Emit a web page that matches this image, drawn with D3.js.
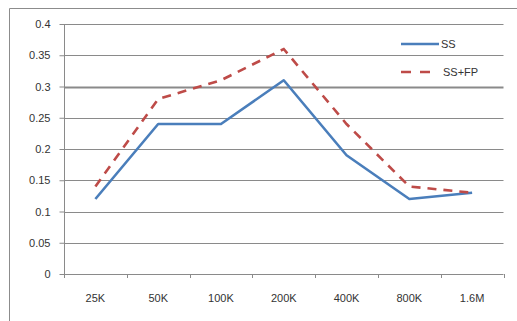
<!DOCTYPE html>
<html><head><meta charset="utf-8">
<script src="https://cdn.jsdelivr.net/npm/d3@7"></script>
<style>body{margin:0;background:#fff}svg{display:block}</style>
</head><body>
<svg id="c" width="517" height="321"></svg>
<script>
const categories = ["25K","50K","100K","200K","400K","800K","1.6M"];
const ss   = [0.12, 0.24, 0.24, 0.31, 0.19, 0.12, 0.13];
const ssfp = [0.14, 0.28, 0.31, 0.36, 0.24, 0.14, 0.13];
const yTicks = [0,0.05,0.1,0.15,0.2,0.25,0.3,0.35,0.4];
const seriesNames = ["SS","SS+FP"];

const svg = d3.select("#c");
const m = {l:64, r:503.5, t:24, b:274};
const x = d3.scaleBand().domain(categories).range([m.l, m.r]);
const y = d3.scaleLinear().domain([0,0.4]).range([m.b, m.t]);
const font = "'Liberation Sans', Arial, sans-serif";

// frame
svg.append("path").attr("d","M9.5,321 V8.5 H517").attr("fill","none").attr("stroke","#8c8c8c").attr("stroke-width",1);

// gridlines
svg.append("g").selectAll("line").data(yTicks.filter(d=>d>0)).join("line")
  .attr("x1", m.l).attr("x2", m.r)
  .attr("y1", d=>Math.round(y(d))+0.5).attr("y2", d=>Math.round(y(d))+0.5)
  .attr("stroke", "#8a8a8a").attr("stroke-width", d=>d===0.3?2:1);

// y axis
const ya = svg.append("g").attr("transform",`translate(${m.l+0.5},0)`)
  .call(d3.axisLeft(y).tickValues(yTicks).tickSize(5).tickPadding(9).tickFormat(d=>String(+d.toFixed(2))));
ya.select(".domain").attr("d",`M0,${m.t}V${m.b+4}`).attr("stroke","#8a8a8a");
ya.selectAll(".tick line").attr("stroke","#8a8a8a");
ya.selectAll("text").attr("font-family",font).attr("font-size",11).attr("fill","#333");

// x axis
const xa = svg.append("g").attr("transform",`translate(0,${Math.round(y(0))+0.5})`)
  .call(d3.axisBottom(x).tickSize(0).tickPadding(20));
xa.select(".domain").attr("d",`M${m.l},0H${m.r}`).attr("stroke","#8a8a8a");
xa.selectAll(".tick text").attr("font-family",font).attr("font-size",11).attr("fill","#333");
svg.append("g").selectAll("line").data(categories).join("line")
  .attr("x1", d=>Math.round(x(d)+x.bandwidth())+0.5).attr("x2", d=>Math.round(x(d)+x.bandwidth())+0.5)
  .attr("y1", Math.round(y(0))).attr("y2", Math.round(y(0))+4)
  .attr("stroke","#8a8a8a");

// lines
const line = d3.line().x((d,i)=>x(categories[i])+x.bandwidth()/2).y(d=>y(d));
svg.append("path").datum(ss).attr("d",line).attr("fill","none")
  .attr("stroke","#4a7ebb").attr("stroke-width",2.6).attr("stroke-linejoin","round");
svg.append("path").datum(ssfp).attr("d",line).attr("fill","none")
  .attr("stroke","#be4b48").attr("stroke-width",2.6).attr("stroke-dasharray","9,7");

// legend
const lg = svg.append("g");
lg.append("line").attr("x1",401).attr("x2",439).attr("y1",44).attr("y2",44)
  .attr("stroke","#4a7ebb").attr("stroke-width",2.6);
lg.append("line").attr("x1",401).attr("x2",439).attr("y1",72).attr("y2",72)
  .attr("stroke","#be4b48").attr("stroke-width",2.6).attr("stroke-dasharray","10,9");
lg.selectAll("text").data(seriesNames).join("text")
  .attr("x",(d,i)=>i===0?441:443).attr("y",(d,i)=>i===0?48:76)
  .attr("font-family",font).attr("font-size",11).attr("fill","#333").text(d=>d);
</script>
</body></html>
